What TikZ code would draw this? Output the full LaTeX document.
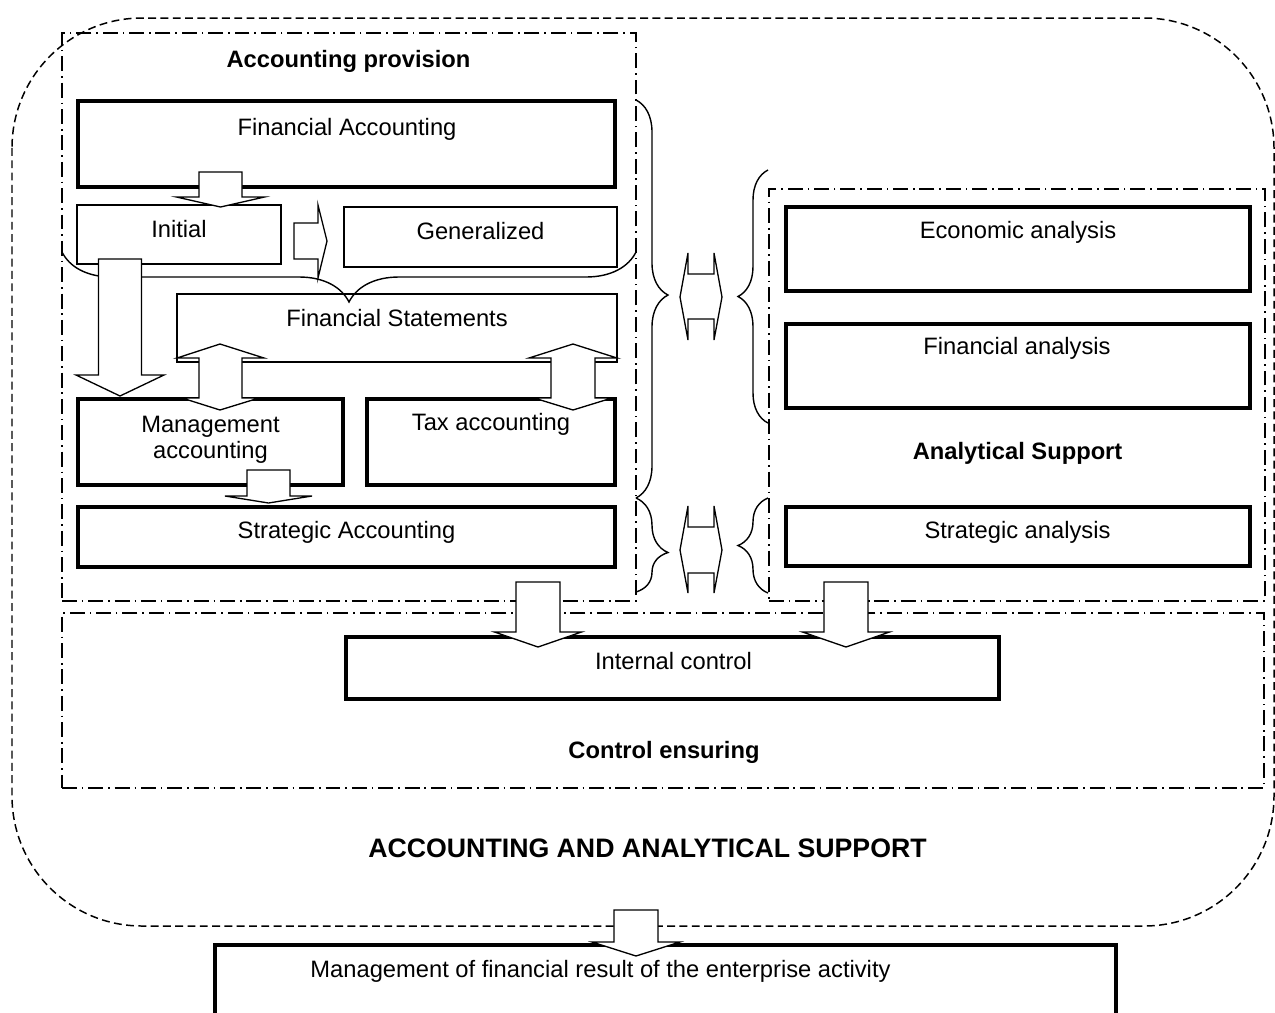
\documentclass[tikz,border=0pt]{standalone}
\usepackage{fontspec}
\setmainfont{Liberation Sans}
\usetikzlibrary{decorations.pathreplacing}
\newcommand\mkbox[6]{\node[#6, minimum width={(#4-#2)*0.02cm}, minimum height={(#5-#3)*0.02cm}] (#1) at ({(#2+#4)/2},{(#3+#5)/2}) {};}
% down block arrow: #1 x centre, #2 y top, #3 y head base, #4 y tip, #5 shaft half, #6 head half
\newcommand\blkdown[6]{\draw[blk] ({#1-#5},#2) -- ({#1+#5},#2) -- ({#1+#5},#3) -- ({#1+#6},#3) -- (#1,#4) -- ({#1-#6},#3) -- ({#1-#5},#3) -- cycle;}
\begin{document}
\begin{tikzpicture}[x=0.02cm, y=-0.02cm,
  every node/.style={inner sep=0pt, outer sep=0pt},
  thickbox/.style={draw, line width=2pt, rectangle},
  thinbox/.style={draw, line width=1pt, rectangle},
  frame/.style={draw, line width=0.85pt, rectangle, dash pattern=on 8.5pt off 2.8pt on 0.9pt off 2.8pt},
  outerline/.style={draw, line width=0.85pt, dash pattern=on 4.5pt off 2.5pt},
  blk/.style={draw, fill=white, line width=0.75pt, line join=miter},
  brc/.style={draw, line width=0.8pt, decorate},
  txt/.style={font=\fontsize{13.5}{16}\selectfont, anchor=base},
  ttl/.style={font=\fontsize{13.5}{16}\selectfont\bfseries, anchor=base},
  bigttl/.style={font=\fontsize{15.2}{18}\selectfont\bfseries, anchor=base}]
\clip (0,0) rectangle (1275,1012);
\fill[white] (0,0) rectangle (1275,1012);
% outer dashed rounded frame
\draw[outerline, rounded corners=2.6cm] (12,18) rectangle (1274,926);
% containers
\mkbox{ap}{62}{33}{636}{601}{frame}
\mkbox{as}{769}{189}{1265}{601}{frame}
\mkbox{ce}{62}{613}{1264}{788}{frame}
% boxes
\mkbox{fa}{78}{101}{615}{187}{thickbox}
\mkbox{ini}{77}{205}{281}{264}{thinbox}
\mkbox{gen}{344}{207}{617}{267}{thinbox}
\mkbox{fs}{177}{294}{617}{362}{thinbox}
\mkbox{ma}{78}{399}{343}{485}{thickbox}
\mkbox{tax}{367}{399}{615}{485}{thickbox}
\mkbox{sa}{78}{507}{615}{567}{thickbox}
\mkbox{ea}{786}{207}{1250}{291}{thickbox}
\mkbox{fan}{786}{324}{1250}{408}{thickbox}
\mkbox{san}{786}{507}{1250}{566}{thickbox}
\mkbox{ic}{346}{637}{999}{699}{thickbox}
\mkbox{mfr}{215}{945}{1116}{1060}{thickbox}
% braces
\draw[brc, decoration={brace, amplitude=1cm, aspect=0.5}] (636,252) -- (62,252);
\draw[brc, decoration={brace, amplitude=0.64cm, aspect=0.49}] (636,100) -- (636,498);
\draw[brc, decoration={brace, amplitude=0.64cm, aspect=0.58}] (636,498) -- (636,592);
\draw[brc, decoration={brace, amplitude=0.6cm, aspect=0.5}] (768,423) -- (768,170);
\draw[brc, decoration={brace, amplitude=0.6cm, aspect=0.5}] (768,593) -- (768,498);
% block arrows
\blkdown{220.5}{172}{197}{207}{21.5}{44}
\blkdown{120}{259}{375}{396}{21.5}{44}
\blkdown{268.5}{470}{496}{503}{21.5}{43.5}
\blkdown{538}{582}{632}{647}{22}{43.5}
\blkdown{846}{582}{632}{647}{22}{43.5}
\blkdown{636}{910}{942}{956}{22}{44}
% right arrow Initial -> Generalized
\draw[blk] (294,223) -- (318,223) -- (318,205) -- (327,241) -- (318,278) -- (318,259) -- (294,259) -- cycle;
% vertical double arrows
\draw[blk] (220,344) -- (264,358) -- (242,358) -- (242,398) -- (259,398) -- (220,410) -- (182,398) -- (199,398) -- (199,358) -- (177,358) -- cycle;
\draw[blk] (573,344) -- (617,358) -- (595,358) -- (595,398) -- (612,398) -- (573,410) -- (534,398) -- (551,398) -- (551,358) -- (529,358) -- cycle;
% horizontal double arrows
\draw[blk] (680,297) -- (688,253) -- (688,274) -- (714,274) -- (714,253) -- (722,297) -- (714,340) -- (714,319) -- (688,319) -- (688,340) -- cycle;
\draw[blk] (680,550) -- (688,506) -- (688,527) -- (714,527) -- (714,506) -- (722,550) -- (714,593) -- (714,573) -- (688,573) -- (688,593) -- cycle;
% texts
\node[ttl] (t-ap) at (348.5,67) {Accounting provision};
\node[txt] (t-fa) at (347,135) {Financial Accounting};
\node[txt] (t-ini) at (179,237) {Initial};
\node[txt] (t-gen) at (480.5,239) {Generalized};
\node[txt] (t-fs) at (397,326) {Financial Statements};
\node[txt] (t-ma1) at (210.5,432) {Management};
\node[txt] (t-ma2) at (210.5,458) {accounting};
\node[txt] (t-tax) at (491,430) {Tax accounting};
\node[txt] (t-sa) at (346.5,538) {Strategic Accounting};
\node[txt] (t-ea) at (1018,238) {Economic analysis};
\node[txt] (t-fan) at (1017,354) {Financial analysis};
\node[ttl] (t-as) at (1017.6,459) {Analytical Support};
\node[txt] (t-san) at (1017.5,538) {Strategic analysis};
\node[txt] (t-ic) at (673.5,669) {Internal control};
\node[ttl] (t-ce) at (664,758) {Control ensuring};
\node[bigttl] (t-aas) at (647.5,857) {ACCOUNTING AND ANALYTICAL SUPPORT};
\node[txt] (t-mfr) at (600.5,977) {Management of financial result of the enterprise activity};
\end{tikzpicture}
\end{document}
